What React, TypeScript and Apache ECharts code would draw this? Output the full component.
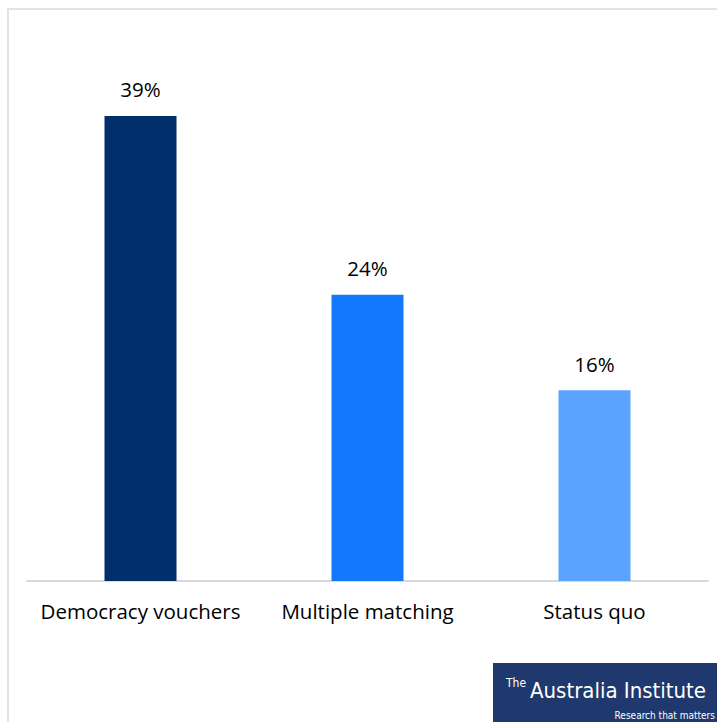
import React, { useEffect, useRef } from "react";
import * as echarts from "echarts";

const categories = ["Democracy vouchers", "Multiple matching", "Status quo"];
const values = [39, 24, 16];
const barColors = ["#002f6c", "#1478ff", "#5ba3ff"];

export default function App() {
  const ref = useRef<HTMLDivElement>(null);
  useEffect(() => {
    if (!ref.current) return;
    const chart = echarts.init(ref.current, null, { renderer: "svg" });
    chart.setOption({
      animation: false,
      backgroundColor: "#ffffff",
      grid: { left: 27, right: 9, top: 42, bottom: 141, containLabel: false },
      xAxis: {
        type: "category",
        data: categories,
        axisLine: { show: true, lineStyle: { color: "#d9d9d9", width: 2 } },
        axisTick: { show: false },
        axisLabel: {
          interval: 0,
          color: "#000000",
          fontFamily: "Open Sans",
          fontSize: 20.5,
          margin: 19,
        },
      },
      yAxis: {
        type: "value",
        min: 0,
        max: 45.2,
        show: false,
        splitLine: { show: false },
      },
      series: [
        {
          type: "bar",
          barWidth: 72,
          data: values.map((v, i) => ({ value: v, itemStyle: { color: barColors[i] } })),
          label: {
            show: true,
            position: "top",
            distance: 16,
            formatter: "{c}%",
            color: "#000000",
            fontFamily: "Open Sans",
            fontSize: 20.5,
          },
        },
      ],
      graphic: [
        {
          type: "polyline",
          shape: { points: [[8, 730], [8, 9], [720, 9]] },
          style: { stroke: "#e3e3e3", lineWidth: 2, fill: null },
          silent: true,
        },
        {
          type: "rect",
          shape: { x: 493, y: 663, width: 230, height: 62 },
          style: { fill: "#1f386d" },
        },
        {
          type: "text",
          x: 506,
          y: 683,
          style: {
            text: "The",
            fill: "#ffffff",
            fontFamily: "DejaVu Sans Condensed",
            fontSize: 12,
            textVerticalAlign: "middle",
          },
        },
        {
          type: "text",
          x: 706,
          y: 690,
          style: {
            text: "Australia Institute",
            fill: "#ffffff",
            fontFamily: "DejaVu Sans Condensed",
            fontSize: 22,
            textAlign: "right",
            textVerticalAlign: "middle",
          },
        },
        {
          type: "text",
          x: 715,
          y: 715,
          style: {
            text: "Research that matters",
            fill: "#ffffff",
            fontFamily: "DejaVu Sans Condensed",
            fontSize: 10,
            textAlign: "right",
            textVerticalAlign: "middle",
          },
        },
      ],
    });
    return () => chart.dispose();
  }, []);
  return (
    <div
      ref={ref}
      style={{ position: "fixed", left: 0, top: 0, width: 717, height: 722 }}
    />
  );
}
